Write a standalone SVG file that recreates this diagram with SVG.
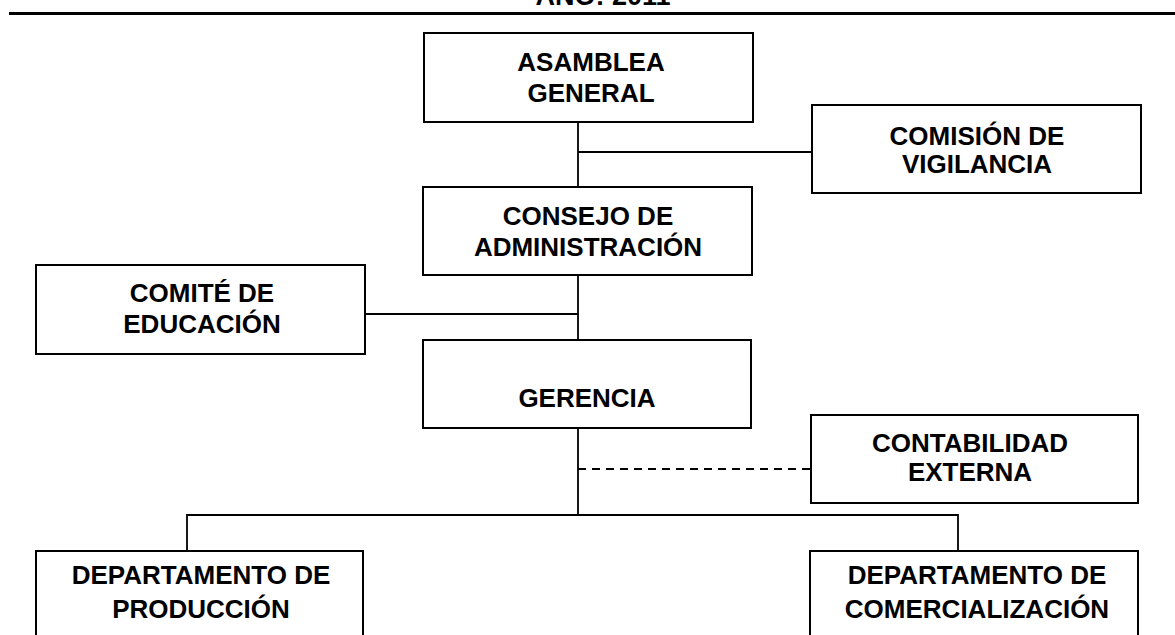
<svg xmlns="http://www.w3.org/2000/svg" width="1175" height="635" viewBox="0 0 1175 635">
<style>
.box{fill:#fff;stroke:#000;stroke-width:2}
.t{font-family:"Liberation Sans",Arial,sans-serif;font-weight:bold;font-size:26px;fill:#000;text-anchor:middle}
.c{fill:none;stroke:#000;stroke-width:1.8}
.d{fill:none;stroke:#000;stroke-width:1.8;stroke-dasharray:8 6}
</style>
<rect width="1175" height="635" fill="#fff"/>
<text class="t" x="603" y="5" style="font-size:27px">AÑO: 2011</text>
<line x1="9" y1="13.5" x2="1175" y2="13.5" stroke="#000" stroke-width="3"/>
<g id="connectors">
<path class="c" d="M578 122V187M578 152H812M578 275V340M365 314H578M578 428V515M187 551V515H958V551"/>
<path class="d" d="M578 469H811"/>
</g>
<g id="asamblea"><rect class="box" x="424" y="33" width="329" height="89"/><text class="t" x="591" y="71">ASAMBLEA</text><text class="t" x="591" y="102">GENERAL</text></g>
<g id="comision"><rect class="box" x="812" y="105" width="329" height="88"/><text class="t" x="977" y="145">COMISIÓN DE</text><text class="t" x="977" y="173">VIGILANCIA</text></g>
<g id="consejo"><rect class="box" x="423" y="187" width="329" height="88"/><text class="t" x="588" y="225">CONSEJO DE</text><text class="t" x="588" y="256">ADMINISTRACIÓN</text></g>
<g id="comite"><rect class="box" x="36" y="265" width="329" height="89"/><text class="t" x="202" y="302">COMITÉ DE</text><text class="t" x="202" y="333">EDUCACIÓN</text></g>
<g id="gerencia"><rect class="box" x="423" y="340" width="328" height="88"/><text class="t" x="587" y="407">GERENCIA</text></g>
<g id="contabilidad"><rect class="box" x="811" y="415" width="327" height="88"/><text class="t" x="970" y="452">CONTABILIDAD</text><text class="t" x="970" y="481">EXTERNA</text></g>
<g id="produccion"><rect class="box" x="36" y="551" width="327" height="100"/><text class="t" x="201" y="584">DEPARTAMENTO DE</text><text class="t" x="201" y="618">PRODUCCIÓN</text></g>
<g id="comercializacion"><rect class="box" x="810" y="551" width="328" height="100"/><text class="t" x="977" y="584">DEPARTAMENTO DE</text><text class="t" x="977" y="618">COMERCIALIZACIÓN</text></g>
</svg>
